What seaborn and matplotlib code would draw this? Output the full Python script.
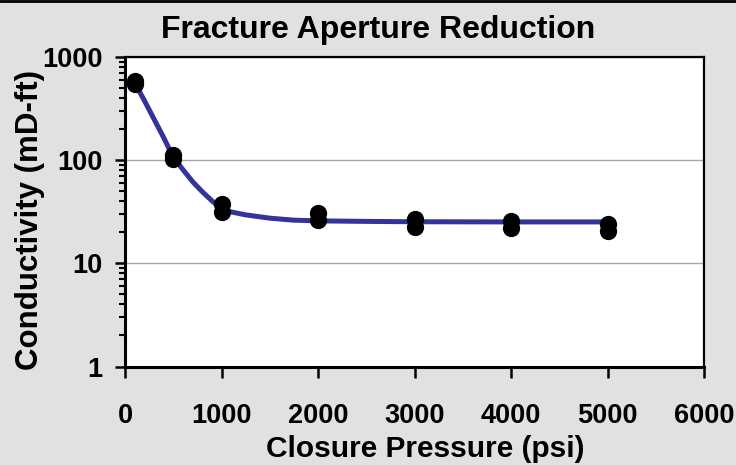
import numpy as np
import pandas as pd
import seaborn as sns
import matplotlib
matplotlib.use("Agg")
import matplotlib.pyplot as plt
from matplotlib.lines import Line2D
from matplotlib.ticker import FixedLocator, LogLocator, NullFormatter

# measured points (two tests at each closure pressure)
pressure = [100, 100, 500, 500, 1000, 1000, 2000, 2000, 3000, 3000, 4000, 4000, 5000, 5000]
conductivity = [580, 542, 111, 103, 37.8, 31.6, 30.9, 26.4, 27.0, 22.4, 25.9, 22.1, 24.2, 20.7]

# fitted trend
fit_pressure = [100, 200, 300, 400, 500, 600, 700, 800, 900, 1000, 1100, 1250,
                1500, 1750, 2000, 2500, 3000, 4000, 5000]
fit_conductivity = [562, 380, 251, 166, 107, 81, 62, 49.5, 40.5, 33.5, 31.5, 29.5,
                    27.4, 26.2, 25.8, 25.5, 25.3, 25.2, 25.2]

x_ticks = [0, 1000, 2000, 3000, 4000, 5000, 6000]
y_ticks = [1, 10, 100, 1000]

points = pd.DataFrame({"pressure": pressure, "conductivity": conductivity})
trend = pd.DataFrame({"pressure": fit_pressure, "conductivity": fit_conductivity})

sns.set_style("white")
plt.rcParams['font.family'] = ['Liberation Sans', 'DejaVu Sans']
plt.rcParams['text.color'] = 'black'
plt.rcParams['xtick.color'] = 'black'
plt.rcParams['ytick.color'] = 'black'
plt.rcParams['axes.labelcolor'] = 'black'

bg = "#e1e1e1"
fig = plt.figure(figsize=(7.36, 4.65), dpi=100, facecolor=bg)
ax = fig.add_axes([125 / 736, 1 - 366.5 / 465, (704 - 125) / 736, (366.5 - 57) / 465])
ax.set_facecolor("white")

sns.lineplot(data=trend, x="pressure", y="conductivity", ax=ax, color="#333399",
             linewidth=3.6, sort=False, estimator=None, zorder=2)
sns.scatterplot(data=points, x="pressure", y="conductivity", ax=ax, color="black",
                s=155, edgecolor="black", linewidth=0, zorder=3)

ax.set_yscale("log")
ax.set_ylim(1, 1000)
ax.set_xlim(0, 6000)
ax.set_xticks(x_ticks)
ax.set_xticklabels([str(t) for t in x_ticks])
ax.yaxis.set_major_locator(FixedLocator(y_ticks))
ax.set_yticklabels([str(t) for t in y_ticks])
ax.yaxis.set_minor_locator(LogLocator(base=10, subs=np.arange(2, 10)))
ax.yaxis.set_minor_formatter(NullFormatter())

ax.grid(axis="y", which="major", color="#a6a6a6", linewidth=1.0)
ax.grid(axis="x", visible=False)
ax.set_axisbelow(True)

for side in ["left", "bottom"]:
    ax.spines[side].set_linewidth(2.2)
    ax.spines[side].set_color("black")
for side in ["top", "right"]:
    ax.spines[side].set_linewidth(1.6)
    ax.spines[side].set_color("black")
    ax.spines[side].set_visible(True)

ax.tick_params(axis="y", which="major", direction="out", length=7, width=1.8,
               pad=9, labelsize=19.5, left=True, right=False, colors="black")
ax.tick_params(axis="y", which="minor", direction="out", length=4.5, width=1.5,
               left=True, right=False, colors="black")
ax.tick_params(axis="x", which="major", direction="out", length=8, width=1.8,
               pad=18, labelsize=19.5, bottom=True, top=False, colors="black")
for lab in ax.get_xticklabels() + ax.get_yticklabels():
    lab.set_fontweight("bold")

ax.set_xlabel("")
ax.set_ylabel("")

fig.text(378.5 / 736, 1 - 38 / 465, "Fracture Aperture Reduction", ha="center",
         va="baseline", fontsize=23, fontweight="bold", color="black")
fig.text(425 / 736, 1 - 457 / 465, "Closure Pressure (psi)", ha="center",
         va="baseline", fontsize=21.5, fontweight="bold", color="black")
fig.text(38 / 736, 1 - 220 / 465, "Conductivity (mD-ft)", ha="center",
         va="baseline", rotation=90, rotation_mode="anchor", fontsize=22.5,
         fontweight="bold", color="black")

# top border of the chart area
fig.add_artist(Line2D([0, 1], [0.997, 0.997], transform=fig.transFigure,
                      color="black", linewidth=2))

fig.savefig("out.png", dpi=100, facecolor=bg)
